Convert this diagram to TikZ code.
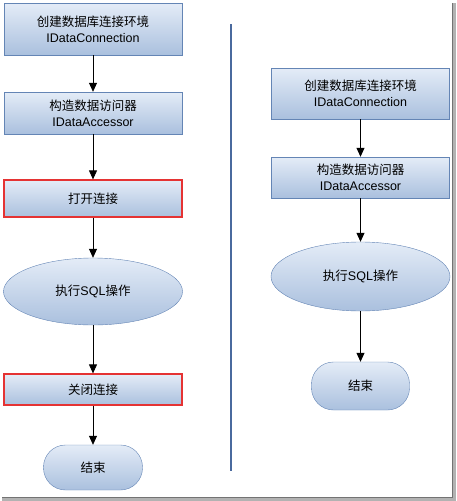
\documentclass[tikz,border=0pt]{standalone}
\usepackage{fontspec}
\setmainfont{Liberation Sans}
\newfontfamily\cjk{Noto Sans CJK SC}
\usepackage{xcolor}
\usetikzlibrary{shapes,arrows.meta,positioning}

\definecolor{boxtop}{HTML}{E4ECF7}
\definecolor{boxbot}{HTML}{AAC0DE}
\definecolor{boxline}{HTML}{6485B5}
\definecolor{hiline}{HTML}{E53333}
\definecolor{sepline}{HTML}{4A6A9E}

\tikzset{
    box/.style={draw=boxline, top color=boxtop, bottom color=boxbot, minimum width=178pt,
        align=center, inner sep=0pt, font=\fontsize{12.5}{16}\selectfont},
    hibox/.style={box, draw=hiline, line width=1.2pt},
    oval/.style={box, ellipse, minimum width=179pt},
    term/.style={box, rounded corners=22pt, minimum width=99pt},
    flow/.style={-{Triangle[length=9pt,width=8pt]}, thick}
}

\begin{document}
\begin{tikzpicture}[x=1pt,y=-1pt]
    \useasboundingbox (0,0) rectangle (456,501);

    % Left flow
    \node[box, minimum height=52pt] (l1) at (93,29) {{\cjk 创建数据库连接环境}\\IDataConnection};
    \node[box, minimum height=42pt] (l2) at (93,113) {{\cjk 构造数据访问器}\\IDataAccessor};
    \node[hibox, minimum height=37pt] (l3) at (93,198.5) {\cjk 打开连接};
    \node[oval, minimum height=67pt] (l4) at (93,291.5) {{\cjk 执行}SQL{\cjk 操作}};
    \node[hibox, minimum height=31pt] (l5) at (93,389.5) {\cjk 关闭连接};
    \node[term, minimum height=45pt] (l6) at (93,467.5) {\cjk 结束};

    \draw[flow] (l1) -- (l2);
    \draw[flow] (l2) -- (l3);
    \draw[flow] (l3) -- (l4);
    \draw[flow] (l4) -- (l5);
    \draw[flow] (l5) -- (l6);

    % Separator
    \draw[sepline, line width=1.2pt] (231,24) -- (231,471);

    % Right flow
    \node[box, minimum height=51pt] (r1) at (360.5,93.5) {{\cjk 创建数据库连接环境}\\IDataConnection};
    \node[box, minimum height=41pt] (r2) at (360.5,177.5) {{\cjk 构造数据访问器}\\IDataAccessor};
    \node[oval, minimum height=69pt] (r3) at (360.5,276.5) {{\cjk 执行}SQL{\cjk 操作}};
    \node[term, minimum height=48pt, minimum width=98pt] (r4) at (360.5,386) {\cjk 结束};

    \draw[flow] (r1) -- (r2);
    \draw[flow] (r2) -- (r3);
    \draw[flow] (r3) -- (r4);

    % Frame shadow
    \fill[gray!60] (452,3) rectangle (456,501);
    \fill[gray!60] (2,497) rectangle (456,501);
    \draw[gray!90!black, line width=1.2pt] (452.6,3) -- (452.6,497.6) -- (2,497.6);
\end{tikzpicture}
\end{document}
